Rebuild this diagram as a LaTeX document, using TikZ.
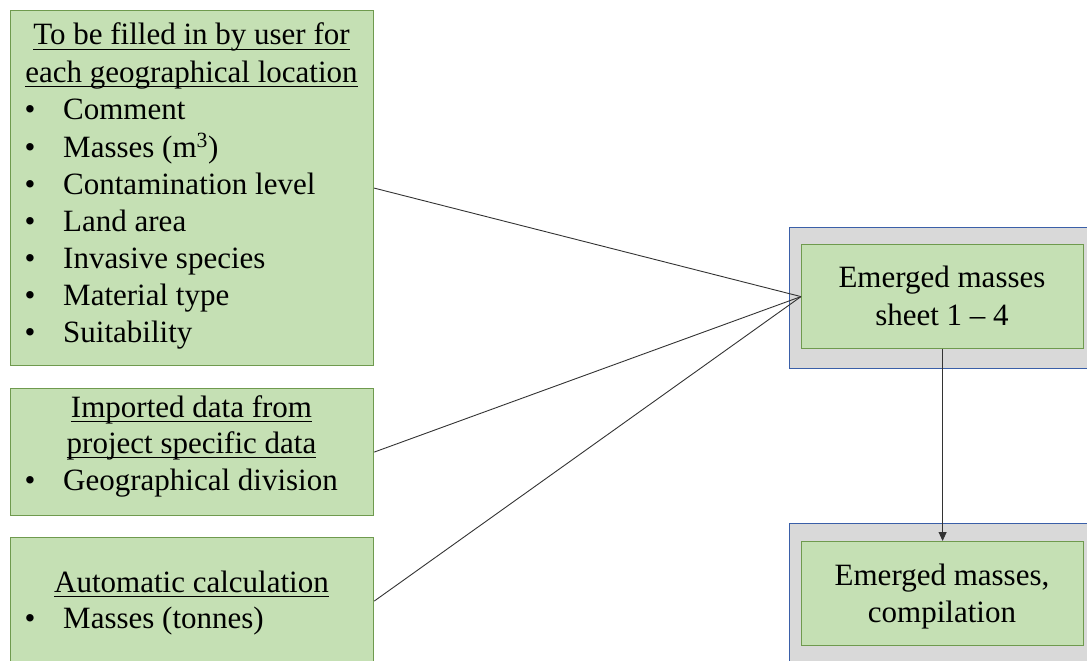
\documentclass[tikz,border=0pt]{standalone}
\usepackage{fontspec}
\setmainfont{Liberation Serif}
\usetikzlibrary{arrows.meta}
\definecolor{boxgreen}{HTML}{C5E0B4}
\definecolor{boxgreenline}{HTML}{6F9A4E}
\definecolor{graybg}{HTML}{D9D9D9}
\definecolor{grayline}{HTML}{3A5FA8}
\definecolor{connline}{HTML}{333333}
\newsavebox\ulbox
\newcommand{\ulinetext}[1]{\sbox\ulbox{#1}\rlap{\rule[-5pt]{\wd\ulbox}{1.3pt}}\usebox\ulbox}
\tikzset{
  greenbox/.style={draw=boxgreenline, fill=boxgreen, line width=1.2pt, inner sep=0pt, anchor=north west},
  graybox/.style={draw=grayline, fill=graybg, line width=1.1pt, inner sep=0pt, anchor=north west},
  txt/.style={inner sep=0pt, font=\fontsize{31pt}{37pt}\selectfont},
  conn/.style={draw=connline, line width=0.9pt},
}
\begin{document}
\begin{tikzpicture}[x=1pt,y=-1pt]
\useasboundingbox (0,0) rectangle (1087,661);
\begin{scope}
\clip (0,0) rectangle (1087,661);
% left boxes
\node[greenbox, minimum width=363pt, minimum height=355pt] (b1) at (10,10) {};
\node[greenbox, minimum width=363pt, minimum height=127pt] (b2) at (10,388) {};
\node[greenbox, minimum width=363pt, minimum height=127pt] (b3) at (10,537) {};
% right boxes
\node[graybox, minimum width=330pt, minimum height=141pt] (g1) at (789,227) {};
\node[graybox, minimum width=330pt, minimum height=141pt] (g2) at (789,523) {};
\node[greenbox, minimum width=282pt, minimum height=104pt] (e1) at (801,244) {};
\node[greenbox, minimum width=282pt, minimum height=104pt] (e2) at (801,541) {};
% connectors
\draw[conn] (b1.east) -- (e1.west);
\draw[conn] (b2.east) -- (e1.west);
\draw[conn] (b3.east) -- (e1.west);
\draw[conn, -{Triangle[length=9pt,width=8pt]}] (e1.south) -- (e2.north);
% box 1 text
\node[txt, anchor=base] (t1a) at (191.5,45) {\ulinetext{To be filled in by user for}};
\node[txt, anchor=base] (t1b) at (191.5,82) {\ulinetext{each geographical location}};
\foreach \y/\t [count=\i] in {119/Comment, 157/{Masses (m\textsuperscript{3})}, 194/Contamination level, 231/Land area, 268/Invasive species, 305/Material type, 342/Suitability}{
  \node[txt, anchor=base] (bu1\i) at (30,\y) {\textbullet};
  \node[txt, anchor=base west] (it1\i) at (63,\y) {\t};
}
% box 2 text
\node[txt, anchor=base] (t2a) at (191.5,417) {\ulinetext{Imported data from}};
\node[txt, anchor=base] (t2b) at (191.5,453) {\ulinetext{project specific data}};
\node[txt, anchor=base] (bu21) at (30,490) {\textbullet};
\node[txt, anchor=base west] (it21) at (63,490) {Geographical division};
% box 3 text
\node[txt, anchor=base] (t3a) at (191.5,592) {\ulinetext{Automatic calculation}};
\node[txt, anchor=base] (bu31) at (30,628) {\textbullet};
\node[txt, anchor=base west] (it31) at (63,628) {Masses (tonnes)};
% right texts
\node[txt, anchor=base] (r1a) at (942,287) {Emerged masses};
\node[txt, anchor=base] (r1b) at (942,325) {sheet 1 \textendash{} 4};
\node[txt, anchor=base] (r2a) at (942,585) {Emerged masses,};
\node[txt, anchor=base] (r2b) at (942,622) {compilation};
\end{scope}
\end{tikzpicture}
\end{document}
